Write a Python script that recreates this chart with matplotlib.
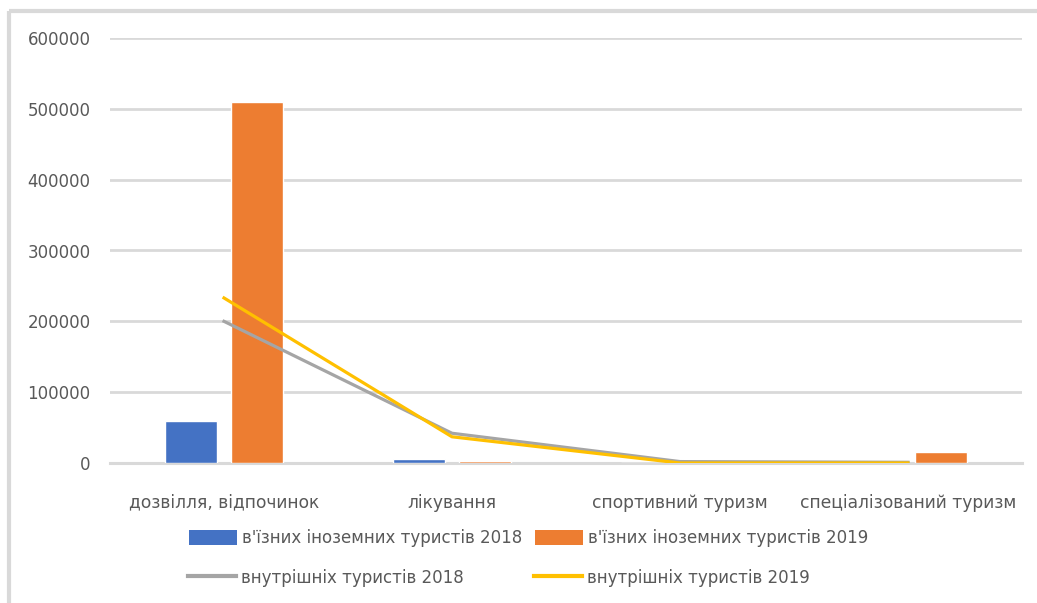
import numpy as np
import matplotlib.pyplot as plt
from matplotlib.lines import Line2D
from matplotlib.patches import Patch

categories = ['дозвілля, відпочинок', 'лікування', 'спортивний туризм', 'спеціалізований туризм']
inbound_2018 = [60000, 5000, 0, 0]
inbound_2019 = [510000, 3000, 0, 16000]
domestic_2018 = [200000, 42000, 2000, 1000]
domestic_2019 = [233000, 37000, 0, 0]
yticks = [0, 100000, 200000, 300000, 400000, 500000, 600000]

series_names = ["в'їзних іноземних туристів 2018", "в'їзних іноземних туристів 2019",
                'внутрішніх туристів 2018', 'внутрішніх туристів 2019']

blue = '#4472C4'
orange = '#ED7D31'
gray = '#A5A5A5'
yellow = '#FFC000'
text_col = '#595959'
W, H = 1037, 603

fig = plt.figure(figsize=(10.37, 6.03), dpi=100)
# outer chart frame (only left and top edges are visible in the crop)
fig.add_artist(Line2D([8.5 / W, 8.5 / W], [0, 1 - 10.5 / H], color='#D9D9D9', linewidth=3,
                      solid_capstyle='butt', transform=fig.transFigure))
fig.add_artist(Line2D([8.5 / W, 1.01], [1 - 10.5 / H, 1 - 10.5 / H], color='#D9D9D9', linewidth=3,
                      solid_capstyle='butt', transform=fig.transFigure))

ax = fig.add_axes([110 / W, (H - 463) / H, 912 / W, 425 / H])
x = np.arange(len(categories))
w = 0.228
ax.axhline(0, color='#D9D9D9', linewidth=2.2, clip_on=False, zorder=2)
ax.bar(x - 0.143, inbound_2018, w, color=blue, edgecolor='white', linewidth=1, zorder=3)
ax.bar(x + 0.143, inbound_2019, w, color=orange, edgecolor='white', linewidth=1, zorder=3)
ax.plot(x, domestic_2018, color=gray, linewidth=2.3, zorder=4)
ax.plot(x, domestic_2019, color=yellow, linewidth=2.3, zorder=5)

ax.set_xlim(-0.5, len(categories) - 0.5)
ax.set_ylim(0, 600000)
ax.set_yticks(yticks)
ax.set_yticklabels([str(v) for v in yticks], fontsize=12, color=text_col)
ax.set_xticks(x)
ax.set_xticklabels(categories, fontsize=12.3, color=text_col)
ax.tick_params(axis='both', length=0)
ax.tick_params(axis='y', pad=14)
ax.tick_params(axis='x', pad=22)
ax.grid(axis='y', color='#D9D9D9', linewidth=2)
ax.set_axisbelow(True)
for s in ax.spines.values():
    s.set_visible(False)

handles = [Patch(facecolor=blue, edgecolor='none'), Patch(facecolor=orange, edgecolor='none'),
           Line2D([], [], color=gray, linewidth=3), Line2D([], [], color=yellow, linewidth=3)]
anchors = [(182, 538), (528, 538), (181, 578), (527, 578)]
for h, name, (lx, ly) in zip(handles, series_names, anchors):
    fig.legend([h], [name], loc='center left', bbox_to_anchor=(lx / W, (H - ly) / H),
               frameon=False, fontsize=12, handlelength=2.9, handleheight=1.0,
               handletextpad=0.3, borderaxespad=0, labelcolor=text_col)

fig.savefig('out.png', dpi=100)
